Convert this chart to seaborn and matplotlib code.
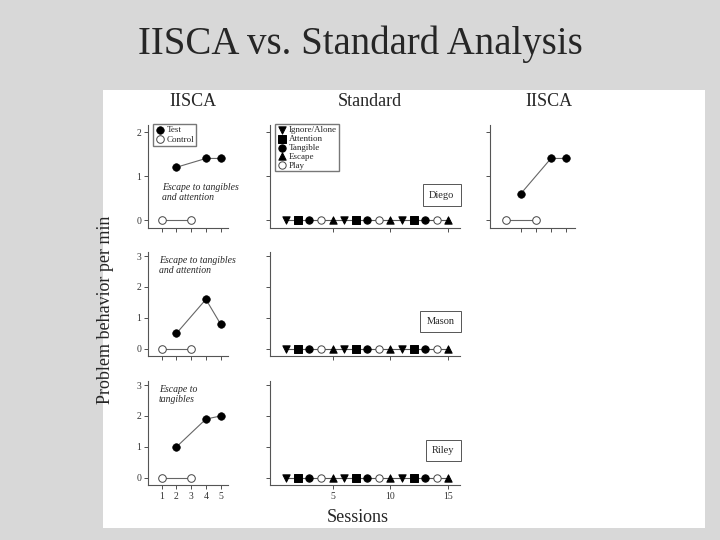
import matplotlib
matplotlib.use("Agg")
import matplotlib.pyplot as plt
import seaborn as sns
import pandas as pd
import numpy as np

sns.set_style("white")
plt.rcParams['font.family'] = ['Liberation Serif', 'DejaVu Serif']

students = ["Diego", "Mason", "Riley"]
test_sessions = [2, 4, 5]
control_sessions = [1, 3]
test_values = {"Diego": [1.2, 1.4, 1.4], "Mason": [0.5, 1.6, 0.8], "Riley": [1.0, 1.9, 2.0]}
control_values = {"Diego": [0, 0], "Mason": [0, 0], "Riley": [0, 0]}
diego_iisca2_test = [0.6, 1.4, 1.4]
diego_iisca2_control = [0, 0]
std_sessions = list(range(1, 16))
std_conditions = ["Ignore/Alone", "Attention", "Tangible", "Play", "Escape"] * 3
std_values = {"Diego": [0] * 15, "Mason": [0] * 15, "Riley": [0] * 15}
notes = {"Diego": "Escape to tangibles\nand attention", "Mason": "Escape to tangibles\nand attention",
         "Riley": "Escape to\ntangibles"}
ymax = {"Diego": 2, "Mason": 3, "Riley": 3}

markers = {"Ignore/Alone": "v", "Attention": "s", "Tangible": "o", "Escape": "^", "Play": "o"}
legend_order = ["Ignore/Alone", "Attention", "Tangible", "Escape", "Play"]

W, H = 720, 540
fig = plt.figure(figsize=(7.2, 5.4), dpi=100)
fig.patch.set_facecolor("#d8d8d8")
bg = fig.add_axes([103 / W, 1 - 528 / H, 602 / W, 438 / H], zorder=-10)
bg.set_facecolor("white")
bg.set_xticks([]); bg.set_yticks([])
for s in bg.spines.values():
    s.set_visible(False)
fig.text(0.5, 1 - 44 / H, "IISCA vs. Standard Analysis", ha="center", va="center", fontsize=28)

def ax_at(x0, x1, ytop, ybot):
    a = fig.add_axes([x0 / W, 1 - ybot / H, (x1 - x0) / W, (ybot - ytop) / H])
    a.set_facecolor("none")
    for s in ["top", "right"]:
        a.spines[s].set_visible(False)
    for s in ["left", "bottom"]:
        a.spines[s].set_color("#555555")
        a.spines[s].set_linewidth(0.8)
    a.tick_params(axis="both", direction="out", length=3, width=0.6, labelsize=7, pad=2,
                  colors="#333333", left=True, bottom=True)
    return a

rows = {"Diego": (125, 228), "Mason": (252, 356), "Riley": (381, 485)}

def iisca(ax, tv, cv, top):
    dt = pd.DataFrame({"x": test_sessions, "y": tv})
    dc = pd.DataFrame({"x": control_sessions, "y": cv})
    sns.lineplot(data=dc, x="x", y="y", ax=ax, color="#666666", lw=0.8)
    sns.lineplot(data=dt, x="x", y="y", ax=ax, color="#666666", lw=0.8)
    sns.scatterplot(data=dc, x="x", y="y", ax=ax, marker="o", s=30, facecolor="white",
                    edgecolor="#444444", linewidth=0.7, zorder=3, label="Control")
    sns.scatterplot(data=dt, x="x", y="y", ax=ax, marker="o", s=30, color="black",
                    edgecolor="black", zorder=3, label="Test")
    ax.set_xlim(0.07, 5.5)
    if top == 2:
        ax.set_ylim(-0.18, 2.16)
    else:
        ax.set_ylim(-0.23, 3.13)
    ax.set_xlabel(""); ax.set_ylabel("")
    ax.set_xticks([1, 2, 3, 4, 5])
    ax.set_yticks(range(top + 1))

for st in students:
    ytop, ybot = rows[st]
    a = ax_at(148, 228, ytop, ybot)
    iisca(a, test_values[st], control_values[st], ymax[st])
    leg = a.get_legend()
    if leg: leg.remove()
    if st == "Diego":
        h, l = a.get_legend_handles_labels()
        a.legend(h[::-1], l[::-1], loc="upper left", fontsize=6.5, frameon=True, fancybox=False,
                 edgecolor="#555555", borderpad=0.2, handletextpad=0.2, labelspacing=0.1,
                 handlelength=1.2, bbox_to_anchor=(0.0, 1.05))
        a.text(1.0, 0.85, notes[st], fontsize=7, style="italic", va="top")
    else:
        a.text(0.8, 3.0, notes[st], fontsize=7, style="italic", va="top")
    if st != "Riley":
        a.set_xticklabels([])

    b = ax_at(270, 460, ytop, ybot)
    df = pd.DataFrame({"x": std_sessions, "y": std_values[st], "cond": std_conditions})
    sns.lineplot(data=df, x="x", y="y", ax=b, color="#555555", lw=0.8)
    for c in legend_order:
        sub = df[df.cond == c]
        open_ = c == "Play"
        sns.scatterplot(data=sub, x="x", y="y", ax=b, marker=markers[c], s=28,
                        facecolor="white" if open_ else "black",
                        edgecolor="#444444" if open_ else "black", linewidth=0.7, zorder=3, label=c)
    b.set_xlim(-0.4, 16)
    b.set_ylim(*a.get_ylim())
    b.set_yticks(range(ymax[st] + 1)); b.set_yticklabels([])
    b.set_xticks([5, 10, 15]); b.set_xlabel(""); b.set_ylabel("")
    if st != "Riley":
        b.set_xticklabels([])
    if st == "Diego":
        b.legend(loc="upper left", fontsize=6.5, frameon=True, fancybox=False, edgecolor="#555555",
                 borderpad=0.2, handletextpad=0.2, labelspacing=0.05, handlelength=1.2,
                 bbox_to_anchor=(0.0, 1.05))
    else:
        b.get_legend().remove()
    b.text(0.97, 0.33 if st != "Diego" else 0.32, st, transform=b.transAxes, ha="right", va="center",
           fontsize=7.5, bbox=dict(boxstyle="square,pad=0.6", facecolor="white", edgecolor="#555555", lw=0.7))

c = ax_at(490, 575, rows["Diego"][0], rows["Diego"][1])
iisca(c, diego_iisca2_test, diego_iisca2_control, 2)
c.get_legend().remove()
c.set_xlim(-0.05, 5.6)
c.set_yticklabels([]); c.set_xticklabels([])
c.set_xticks([2, 3, 4, 5])

for x, t in [(193, "IISCA"), (370, "Standard"), (549, "IISCA")]:
    fig.text(x / W, 1 - 102 / H, t, ha="center", va="center", fontsize=13)
fig.text(105 / W, 1 - 310 / H, "Problem behavior per min", rotation=90, ha="center", va="center", fontsize=13)
fig.text(358 / W, 1 - 517 / H, "Sessions", ha="center", va="center", fontsize=13)

fig.savefig("out.png", dpi=100, facecolor=fig.get_facecolor())
